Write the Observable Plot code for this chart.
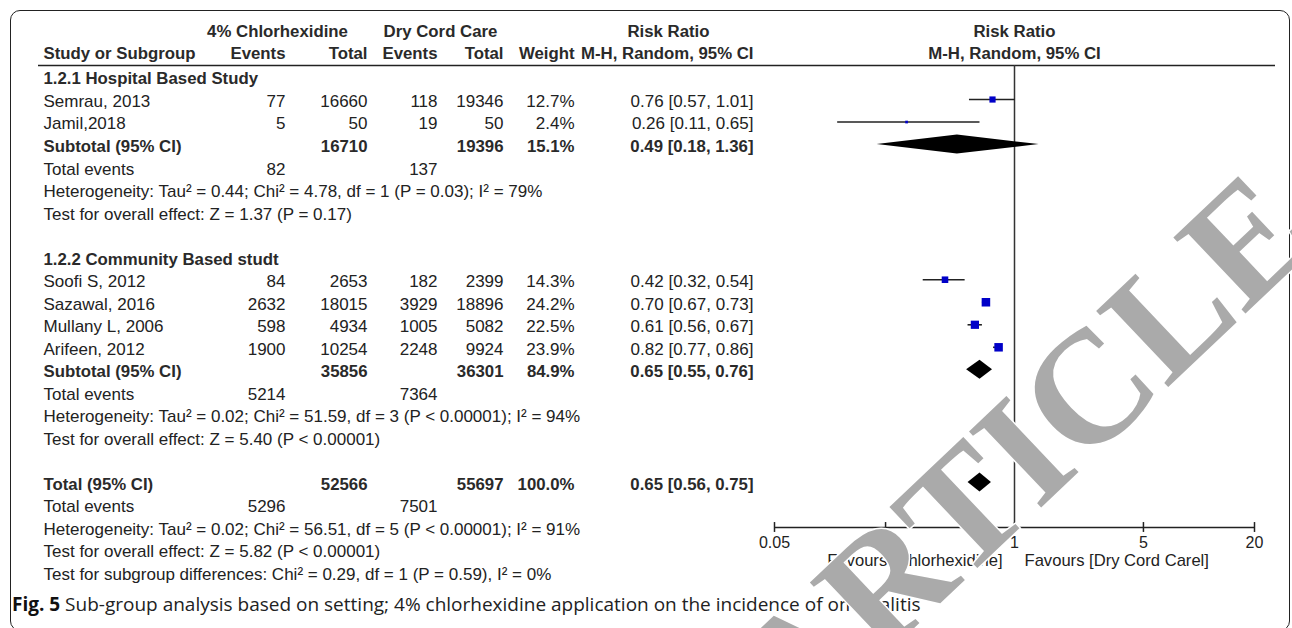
<!DOCTYPE html>
<html><head><meta charset="utf-8">
<script src="https://cdn.jsdelivr.net/npm/d3@7"></script>
<script src="https://cdn.jsdelivr.net/npm/@observablehq/plot@0.6"></script>
<style>
html,body{margin:0;padding:0;background:#fff;}
#wrap{position:relative;width:1292px;height:628px;overflow:hidden;background:#fff;}
#frame{position:absolute;left:10px;top:10px;width:1280px;height:621px;border:1.5px solid #222;border-radius:10px;box-sizing:border-box;}
#chart{position:absolute;left:0;top:0;}
#caption{position:absolute;left:12px;top:591px;font-family:"Open Sans",sans-serif;font-size:19px;line-height:26px;color:#222;white-space:nowrap;}
#caption b{color:#111;}
#wm{position:absolute;left:0;top:0;pointer-events:none;}
</style></head>
<body>
<div id="wrap">
  <div id="frame"></div>
  <div id="chart"></div>
  <div id="caption"><b>Fig. 5</b> Sub-group analysis based on setting; 4% chlorhexidine application on the incidence of omphalitis</div>
  <svg id="wm" width="1292" height="628"></svg>
</div>
<script>
// ---------- data ----------
const studyNames  = ["Semrau, 2013", "Jamil,2018", "Soofi S, 2012", "Sazawal, 2016", "Mullany L, 2006", "Arifeen, 2012"];
const studyGroup  = [0, 0, 1, 1, 1, 1];
const events1     = [77, 5, 84, 2632, 598, 1900];
const total1      = [16660, 50, 2653, 18015, 4934, 10254];
const events2     = [118, 19, 182, 3929, 1005, 2248];
const total2      = [19346, 50, 2399, 18896, 5082, 9924];
const weights     = [12.7, 2.4, 14.3, 24.2, 22.5, 23.9];
const rrs         = [0.76, 0.26, 0.42, 0.70, 0.61, 0.82];
const rrLow       = [0.57, 0.11, 0.32, 0.67, 0.56, 0.77];
const rrHigh      = [1.01, 0.65, 0.54, 0.73, 0.67, 0.86];

const groupNames  = ["1.2.1 Hospital Based Study", "1.2.2 Community Based studt"];
const subTotal1   = [16710, 35856];
const subTotal2   = [19396, 36301];
const subWeight   = [15.1, 84.9];
const subRR       = [0.49, 0.65];
const subLow      = [0.18, 0.55];
const subHigh     = [1.36, 0.76];
const subEvents1  = [82, 5214];
const subEvents2  = [137, 7364];
const subHet      = ["Heterogeneity: Tau² = 0.44; Chi² = 4.78, df = 1 (P = 0.03); I² = 79%",
                     "Heterogeneity: Tau² = 0.02; Chi² = 51.59, df = 3 (P < 0.00001); I² = 94%"];
const subTest     = ["Test for overall effect: Z = 1.37 (P = 0.17)",
                     "Test for overall effect: Z = 5.40 (P < 0.00001)"];

const totalTotals = [52566, 55697];
const totalWeight = 100.0;
const totalRR     = [0.65, 0.56, 0.75];
const totalEvents = [5296, 7501];
const totalHet    = "Heterogeneity: Tau² = 0.02; Chi² = 56.51, df = 5 (P < 0.00001); I² = 91%";
const totalTest   = "Test for overall effect: Z = 5.82 (P < 0.00001)";
const subgroupTest = "Test for subgroup differences: Chi² = 0.29, df = 1 (P = 0.59), I² = 0%";

const xTicks      = [0.05, 0.2, 1, 5, 20];
const favourLeft  = "Favours [Chlorhexidine]";
const favourRight = "Favours [Dry Cord Carel]";
const groupHead1  = ["4% Chlorhexidine", "Dry Cord Care", "Risk Ratio"];
const groupHead2  = ["Study or Subgroup", "Events", "Total", "Events", "Total", "Weight", "M-H, Random, 95% CI"];
const plotHead    = ["Risk Ratio", "M-H, Random, 95% CI"];
const watermark   = "RETRACTED ARTICLE";

// ---------- build table rows ----------
const fmtW = w => w.toFixed(1) + "%";
const fmtRR = (m, l, h) => `${m.toFixed(2)} [${l.toFixed(2)}, ${h.toFixed(2)}]`;
const rows = [];
const studies = [];
const pooled = [];
let r = 0;
groupNames.forEach((g, gi) => {
  rows.push({row: r++, bold: true, label: g});
  studyNames.forEach((s, i) => {
    if (studyGroup[i] !== gi) return;
    const o = {row: r++, bold: false, label: s, c1: events1[i], c2: total1[i], c3: events2[i], c4: total2[i],
      c5: fmtW(weights[i]), c6: fmtRR(rrs[i], rrLow[i], rrHigh[i]), rr: rrs[i], lo: rrLow[i], hi: rrHigh[i], w: weights[i]};
    rows.push(o); studies.push(o);
  });
  const sub = {row: r++, bold: true, label: "Subtotal (95% CI)", c2: subTotal1[gi], c4: subTotal2[gi],
    c5: fmtW(subWeight[gi]), c6: fmtRR(subRR[gi], subLow[gi], subHigh[gi])};
  rows.push(sub);
  pooled.push({row: sub.row, rr: subRR[gi], lo: subLow[gi], hi: subHigh[gi]});
  rows.push({row: r++, bold: false, label: "Total events", c1: subEvents1[gi], c3: subEvents2[gi]});
  rows.push({row: r++, bold: false, label: subHet[gi]});
  rows.push({row: r++, bold: false, label: subTest[gi]});
  r++;
});
const totalRow = r;
rows.push({row: r++, bold: true, label: "Total (95% CI)", c2: totalTotals[0], c4: totalTotals[1],
  c5: fmtW(totalWeight), c6: fmtRR(...totalRR)});
pooled.push({row: totalRow, rr: totalRR[0], lo: totalRR[1], hi: totalRR[2]});
rows.push({row: r++, bold: false, label: "Total events", c1: totalEvents[0], c3: totalEvents[1]});
rows.push({row: r++, bold: false, label: totalHet});
rows.push({row: r++, bold: false, label: totalTest});
rows.push({row: r++, bold: false, label: subgroupTest});

// ---------- layout (style) ----------
const headerLineRow = -0.51;
const axisRow = totalRow + 2;
const head1Row = -2, head2Row = -1.04;
const marginLeft = 38;
const colRight = {c1: 285, c2: 367, c3: 437, c4: 503, c5: 574, c6: 753};
const labelLeft = 43;
const diamondHalf = 0.42;
const tickHalf = 0.22;
const FS = 17, FSB = 16.8, rowDy = 2;
const txt = "#222", boldTxt = "#2a2a2a";

const diamonds = pooled.flatMap((p, k) => [
  {id: k, x: p.lo, y1: p.row, y2: p.row},
  {id: k, x: p.rr, y1: p.row - diamondHalf, y2: p.row + diamondHalf},
  {id: k, x: p.hi, y1: p.row, y2: p.row}
]);

const marks = [];
marks.push(Plot.ruleY([headerLineRow], {stroke: "#222", strokeWidth: 1.6}));
function columnMarks(key, xr, anchor) {
  const data = rows.filter(d => d[key] != null);
  for (const b of [false, true]) {
    marks.push(Plot.text(data.filter(d => d.bold === b), {
      y: "row", text: d => String(d[key]), frameAnchor: "left", dx: xr - marginLeft, dy: rowDy,
      textAnchor: anchor, fontSize: b ? FSB : FS, fontWeight: b ? "bold" : "normal", fill: b ? boldTxt : txt
    }));
  }
}
columnMarks("label", labelLeft, "start");
["c1", "c2", "c3", "c4", "c5", "c6"].forEach(k => columnMarks(k, colRight[k], "end"));

const h1 = [{t: groupHead1[0], x: 277}, {t: groupHead1[1], x: 440}, {t: groupHead1[2], x: 668}];
const h2 = [{t: groupHead2[0], x: labelLeft, a: "start"}, {t: groupHead2[1], x: colRight.c1, a: "end"},
  {t: groupHead2[2], x: colRight.c2, a: "end"}, {t: groupHead2[3], x: colRight.c3, a: "end"},
  {t: groupHead2[4], x: colRight.c4, a: "end"}, {t: groupHead2[5], x: colRight.c5, a: "end"},
  {t: groupHead2[6], x: colRight.c6, a: "end"}];
h1.forEach(h => marks.push(Plot.text([h.t], {y: () => head1Row, text: d => d, frameAnchor: "left", dx: h.x - marginLeft,
  textAnchor: "middle", fontSize: FSB, fontWeight: "bold", fill: boldTxt})));
h2.forEach(h => marks.push(Plot.text([h.t], {y: () => head2Row, text: d => d, frameAnchor: "left", dx: h.x - marginLeft,
  textAnchor: h.a, fontSize: FSB, fontWeight: "bold", fill: boldTxt})));
marks.push(Plot.text([plotHead[0]], {x: () => 1, y: () => head1Row, text: d => d, fontSize: FSB, fontWeight: "bold", fill: boldTxt}));
marks.push(Plot.text([plotHead[1]], {x: () => 1, y: () => head2Row, text: d => d, fontSize: FSB, fontWeight: "bold", fill: boldTxt}));

// forest plot
marks.push(Plot.ruleX([1], {y1: headerLineRow, y2: axisRow, stroke: "#333", strokeWidth: 1.5}));
marks.push(Plot.ruleY(studies, {y: "row", x1: "lo", x2: "hi", stroke: "#222", strokeWidth: 1.6}));
marks.push(Plot.dot(studies, {x: "rr", y: "row", r: "w", symbol: "square", fill: "#0000c8", stroke: "none"}));
marks.push(Plot.areaY(diamonds, {x: "x", y1: "y1", y2: "y2", z: "id", fill: "#000", curve: "linear"}));
// axis
marks.push(Plot.ruleY([axisRow], {x1: xTicks[0], x2: xTicks[xTicks.length - 1], stroke: "#222", strokeWidth: 1.6}));
marks.push(Plot.ruleX(xTicks, {x: d => d, y1: axisRow - tickHalf, y2: axisRow + tickHalf, stroke: "#222", strokeWidth: 1.5}));
marks.push(Plot.text(xTicks, {x: d => d, y: () => axisRow, dy: 15, text: d => String(d), fontSize: 16, fill: txt}));
marks.push(Plot.text([favourLeft], {x: () => 1, y: () => axisRow, dy: 33, dx: -12, textAnchor: "end", text: d => d, fontSize: 16.6, fill: txt}));
marks.push(Plot.text([favourRight], {x: () => 1, y: () => axisRow, dy: 33, dx: 10, textAnchor: "start", text: d => d, fontSize: 16.6, fill: txt}));

const plot = Plot.plot({
  width: 1292, height: 590,
  marginLeft, marginRight: 17, marginTop: 65, marginBottom: 63,
  style: {fontFamily: '"Liberation Sans", Arial, sans-serif', fontSize: FS + "px", background: "transparent", overflow: "visible"},
  x: {type: "log", domain: [xTicks[0], xTicks[xTicks.length - 1]], range: [774, 1254], axis: null},
  y: {type: "linear", domain: [headerLineRow, axisRow], reverse: true, axis: null},
  r: {type: "sqrt", domain: [0, 25], range: [0, 4.9]},
  marks
});
document.getElementById("chart").appendChild(plot);

// watermark overlay
d3.select("#wm").append("text")
  .attr("transform", "translate(1321,242) rotate(-43.5)")
  .attr("text-anchor", "end")
  .attr("font-family", '"Liberation Serif", "Times New Roman", serif')
  .attr("font-weight", "bold")
  .attr("font-size", 160)
  .attr("fill", "#aaa")
  .attr("stroke", "#fff").attr("stroke-width", 3).attr("paint-order", "stroke")
  .text(watermark);
</script>
</body></html>
